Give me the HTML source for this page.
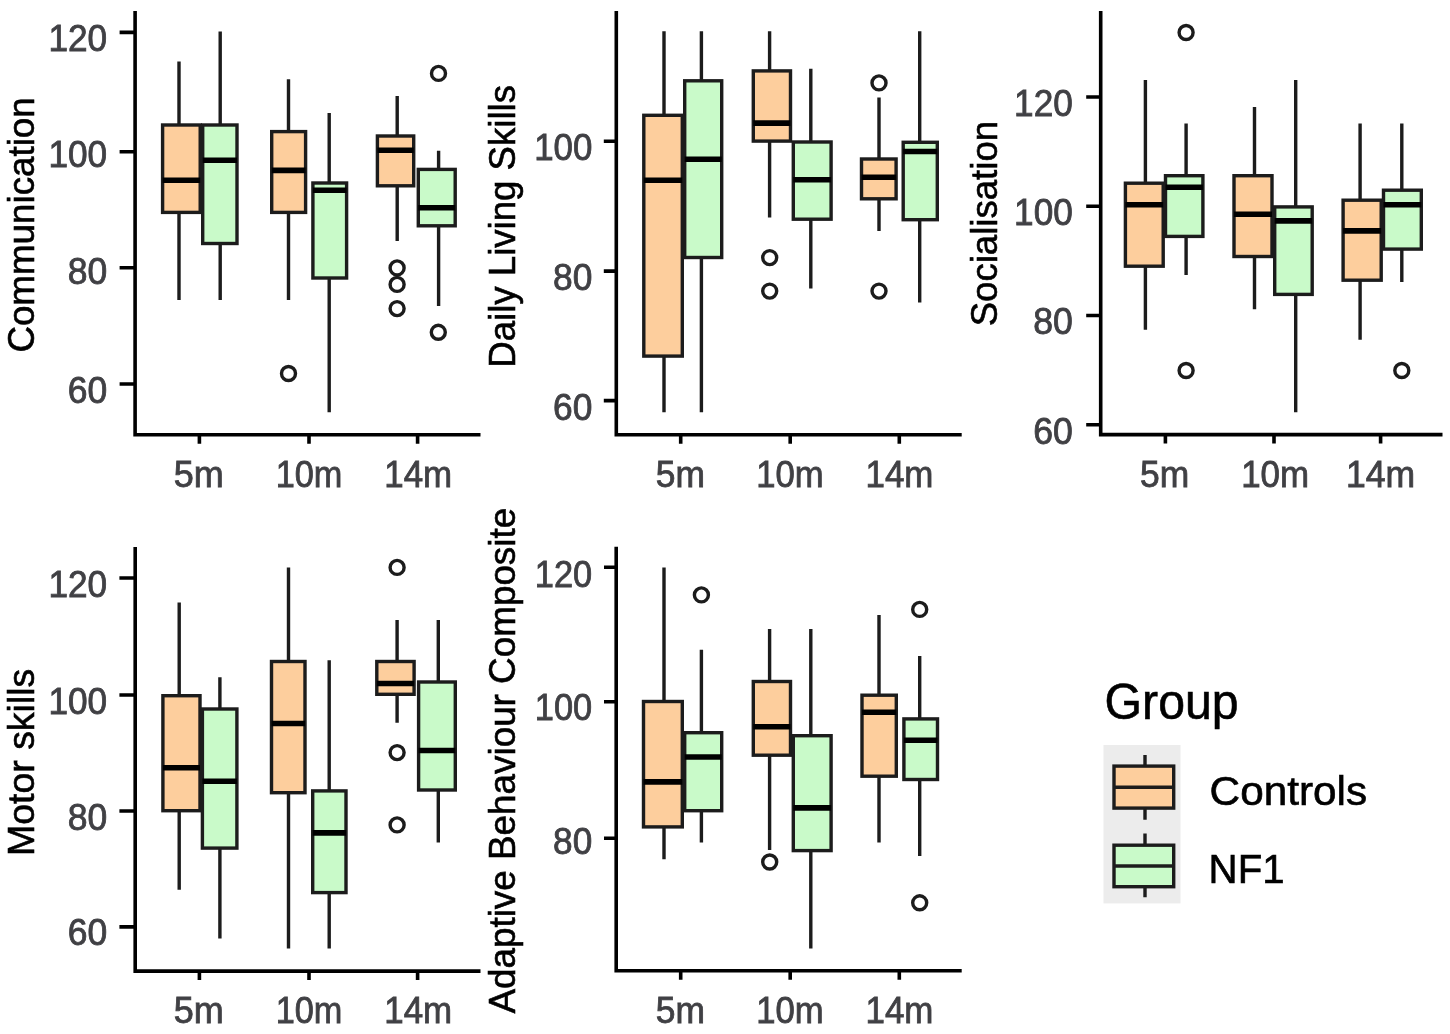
<!DOCTYPE html>
<html lang="en">
<head>
<meta charset="utf-8">
<title>Adaptive behaviour boxplots</title>
<style>
html,body{margin:0;padding:0;background:#fff;}
body{width:1450px;height:1034px;overflow:hidden;}
svg{display:block;font-family:"Liberation Sans",sans-serif;filter:blur(0.55px);}
.a{fill:none;stroke:#000;stroke-width:3.6;stroke-linecap:butt;stroke-linejoin:miter}
.l{fill:none;stroke:#1c1c1c;stroke-width:3.4}
.b{stroke:#1c1c1c;stroke-width:3.4;stroke-linejoin:miter}
.m{fill:none;stroke:#000;stroke-width:5.6}
.o{fill:#fff;stroke:#1c1c1c;stroke-width:3.4}
.t{fill:#404044;font-size:36px;stroke:#404044;stroke-width:0.8}
.ti{fill:#000;stroke:#000;stroke-width:0.6}
</style>
</head>
<body>
<svg width="1450" height="1034" viewBox="0 0 1450 1034">
<rect width="1450" height="1034" fill="#fff"/>
<path d="M135.1 11.0V434.8H480.5M119.6 32.4H135.1M119.6 151.7H135.1M119.6 267.7H135.1M119.6 384.0H135.1M199.4 434.8V443.8M309.0 434.8V443.8M417.6 434.8V443.8" class="a"/>
<text x="48.5" y="50.8" textLength="58.7" lengthAdjust="spacingAndGlyphs" class="t">120</text>
<text x="48.5" y="167.3" textLength="58.7" lengthAdjust="spacingAndGlyphs" class="t">100</text>
<text x="67.7" y="283.7" textLength="39.5" lengthAdjust="spacingAndGlyphs" class="t">80</text>
<text x="67.7" y="402.9" textLength="39.5" lengthAdjust="spacingAndGlyphs" class="t">60</text>
<text x="173.8" y="487.4" textLength="50.0" lengthAdjust="spacingAndGlyphs" class="t">5m</text>
<text x="275.7" y="487.4" textLength="66.7" lengthAdjust="spacingAndGlyphs" class="t">10m</text>
<text x="384.3" y="487.4" textLength="67.9" lengthAdjust="spacingAndGlyphs" class="t">14m</text>
<text transform="translate(33.5 352.6) rotate(-90)" textLength="255.3" lengthAdjust="spacingAndGlyphs" class="ti" font-size="37.5">Communication</text>
<path d="M179.0 61.6V125.0M179.0 212.4V299.9" class="l"/><rect x="162.6" y="125.0" width="37.6" height="87.4" fill="#FDCE9D" class="b"/><path d="M162.6 180.3H200.2" class="m"/>
<path d="M220.2 31.4V125.0M220.2 243.5V299.9" class="l"/><rect x="202.7" y="125.0" width="34.3" height="118.5" fill="#C9FAC9" class="b"/><path d="M202.7 160.3H237.0" class="m"/>
<path d="M288.5 79.2V131.6M288.5 212.4V299.9" class="l"/><rect x="271.7" y="131.6" width="33.9" height="80.8" fill="#FDCE9D" class="b"/><path d="M271.7 170.4H305.6" class="m"/>
<path d="M329.2 113.1V183.0M329.2 278.0V412.2" class="l"/><rect x="312.9" y="183.0" width="33.7" height="95.0" fill="#C9FAC9" class="b"/><path d="M312.9 190.3H346.6" class="m"/>
<path d="M397.2 96.0V136.0M397.2 185.8V241.0" class="l"/><rect x="377.4" y="136.0" width="36.3" height="49.8" fill="#FDCE9D" class="b"/><path d="M377.4 150.2H413.7" class="m"/>
<path d="M438.6 150.8V169.4M438.6 225.8V306.1" class="l"/><rect x="418.3" y="169.4" width="36.9" height="56.4" fill="#C9FAC9" class="b"/><path d="M418.3 207.8H455.2" class="m"/>
<circle cx="288.5" cy="373.5" r="7.0" class="o"/>
<circle cx="397.1" cy="267.9" r="7.0" class="o"/>
<circle cx="397.1" cy="284.4" r="7.0" class="o"/>
<circle cx="397.1" cy="308.6" r="7.0" class="o"/>
<circle cx="438.5" cy="73.4" r="7.0" class="o"/>
<circle cx="438.3" cy="332.3" r="7.0" class="o"/>
<path d="M616.3 11.0V434.7H961.7M603.8 141.3H616.3M603.8 271.1H616.3M603.8 400.6H616.3M680.7 434.7V443.7M790.2 434.7V443.7M899.3 434.7V443.7" class="a"/>
<text x="534.2" y="159.7" textLength="58.2" lengthAdjust="spacingAndGlyphs" class="t">100</text>
<text x="553.1" y="289.7" textLength="39.3" lengthAdjust="spacingAndGlyphs" class="t">80</text>
<text x="553.1" y="419.7" textLength="39.3" lengthAdjust="spacingAndGlyphs" class="t">60</text>
<text x="655.8" y="487.4" textLength="49.2" lengthAdjust="spacingAndGlyphs" class="t">5m</text>
<text x="756.2" y="487.4" textLength="67.4" lengthAdjust="spacingAndGlyphs" class="t">10m</text>
<text x="865.5" y="487.4" textLength="67.9" lengthAdjust="spacingAndGlyphs" class="t">14m</text>
<text transform="translate(515.3 367.7) rotate(-90)" textLength="282.7" lengthAdjust="spacingAndGlyphs" class="ti" font-size="37.5">Daily Living Skills</text>
<path d="M664.0 31.2V115.3M664.0 356.1V412.2" class="l"/><rect x="643.8" y="115.3" width="38.5" height="240.8" fill="#FDCE9D" class="b"/><path d="M643.8 180.3H682.3" class="m"/>
<path d="M701.4 31.2V80.8M701.4 257.5V412.2" class="l"/><rect x="684.7" y="80.8" width="37.0" height="176.7" fill="#C9FAC9" class="b"/><path d="M684.7 159.3H721.7" class="m"/>
<path d="M769.6 31.2V70.9M769.6 141.1V217.5" class="l"/><rect x="753.3" y="70.9" width="37.2" height="70.2" fill="#FDCE9D" class="b"/><path d="M753.3 123.1H790.5" class="m"/>
<path d="M810.8 68.7V142.0M810.8 219.2V288.6" class="l"/><rect x="793.3" y="142.0" width="37.8" height="77.2" fill="#C9FAC9" class="b"/><path d="M793.3 179.8H831.1" class="m"/>
<path d="M879.0 97.4V159.0M879.0 198.8V231.0" class="l"/><rect x="861.5" y="159.0" width="34.6" height="39.8" fill="#FDCE9D" class="b"/><path d="M861.5 177.3H896.1" class="m"/>
<path d="M919.7 31.2V142.3M919.7 219.7V302.4" class="l"/><rect x="903.2" y="142.3" width="34.1" height="77.4" fill="#C9FAC9" class="b"/><path d="M903.2 151.5H937.3" class="m"/>
<circle cx="769.7" cy="257.6" r="7.0" class="o"/>
<circle cx="769.7" cy="291.1" r="7.0" class="o"/>
<circle cx="879.0" cy="82.9" r="7.0" class="o"/>
<circle cx="879.0" cy="291.1" r="7.0" class="o"/>
<path d="M1100.7 11.0V434.6H1442.5M1086.2 97.0H1100.7M1086.2 206.2H1100.7M1086.2 315.5H1100.7M1086.2 424.8H1100.7M1165.4 434.6V443.6M1274.0 434.6V443.6M1380.6 434.6V443.6" class="a"/>
<text x="1014.1" y="116.0" textLength="58.7" lengthAdjust="spacingAndGlyphs" class="t">120</text>
<text x="1014.1" y="225.0" textLength="58.7" lengthAdjust="spacingAndGlyphs" class="t">100</text>
<text x="1033.2" y="334.2" textLength="39.6" lengthAdjust="spacingAndGlyphs" class="t">80</text>
<text x="1033.2" y="443.6" textLength="39.6" lengthAdjust="spacingAndGlyphs" class="t">60</text>
<text x="1140.1" y="487.4" textLength="49.2" lengthAdjust="spacingAndGlyphs" class="t">5m</text>
<text x="1241.2" y="487.4" textLength="67.9" lengthAdjust="spacingAndGlyphs" class="t">10m</text>
<text x="1346.0" y="487.4" textLength="69.2" lengthAdjust="spacingAndGlyphs" class="t">14m</text>
<text transform="translate(996.5 326.3) rotate(-90)" textLength="205.4" lengthAdjust="spacingAndGlyphs" class="ti" font-size="37.5">Socialisation</text>
<path d="M1145.4 79.9V183.2M1145.4 266.2V329.8" class="l"/><rect x="1125.4" y="183.2" width="37.8" height="83.0" fill="#FDCE9D" class="b"/><path d="M1125.4 204.7H1163.2" class="m"/>
<path d="M1186.1 123.6V175.7M1186.1 236.4V274.9" class="l"/><rect x="1165.5" y="175.7" width="37.4" height="60.7" fill="#C9FAC9" class="b"/><path d="M1165.5 187.2H1202.9" class="m"/>
<path d="M1254.5 106.9V175.7M1254.5 256.5V309.3" class="l"/><rect x="1234.0" y="175.7" width="38.0" height="80.8" fill="#FDCE9D" class="b"/><path d="M1234.0 214.2H1272.0" class="m"/>
<path d="M1295.7 79.9V206.9M1295.7 294.4V412.2" class="l"/><rect x="1274.7" y="206.9" width="37.5" height="87.5" fill="#C9FAC9" class="b"/><path d="M1274.7 220.9H1312.2" class="m"/>
<path d="M1360.1 123.6V200.2M1360.1 280.2V339.8" class="l"/><rect x="1343.1" y="200.2" width="38.1" height="80.0" fill="#FDCE9D" class="b"/><path d="M1343.1 230.9H1381.2" class="m"/>
<path d="M1401.8 123.6V190.2M1401.8 249.1V281.9" class="l"/><rect x="1383.5" y="190.2" width="37.8" height="58.9" fill="#C9FAC9" class="b"/><path d="M1383.5 204.7H1421.3" class="m"/>
<circle cx="1186.1" cy="32.5" r="7.0" class="o"/>
<circle cx="1186.1" cy="370.5" r="7.0" class="o"/>
<circle cx="1401.8" cy="370.5" r="7.0" class="o"/>
<path d="M135.2 547.0V971.1H480.5M119.4 578.0H135.2M119.4 695.0H135.2M119.4 811.0H135.2M119.4 926.9H135.2M199.4 971.1V980.1M309.0 971.1V980.1M417.6 971.1V980.1" class="a"/>
<text x="48.5" y="596.8" textLength="58.7" lengthAdjust="spacingAndGlyphs" class="t">120</text>
<text x="48.5" y="713.9" textLength="58.7" lengthAdjust="spacingAndGlyphs" class="t">100</text>
<text x="67.7" y="829.7" textLength="39.5" lengthAdjust="spacingAndGlyphs" class="t">80</text>
<text x="67.7" y="945.3" textLength="39.5" lengthAdjust="spacingAndGlyphs" class="t">60</text>
<text x="173.8" y="1023.4" textLength="50.0" lengthAdjust="spacingAndGlyphs" class="t">5m</text>
<text x="275.7" y="1023.4" textLength="66.7" lengthAdjust="spacingAndGlyphs" class="t">10m</text>
<text x="384.3" y="1023.4" textLength="67.9" lengthAdjust="spacingAndGlyphs" class="t">14m</text>
<text transform="translate(33.6 856.0) rotate(-90)" textLength="187.3" lengthAdjust="spacingAndGlyphs" class="ti" font-size="37.5">Motor skills</text>
<path d="M179.2 602.4V695.7M179.2 810.7V889.8" class="l"/><rect x="162.9" y="695.7" width="37.1" height="115.0" fill="#FDCE9D" class="b"/><path d="M162.9 767.7H200.0" class="m"/>
<path d="M219.9 677.3V709.0M219.9 848.1V938.5" class="l"/><rect x="202.4" y="709.0" width="34.5" height="139.1" fill="#C9FAC9" class="b"/><path d="M202.4 781.2H236.9" class="m"/>
<path d="M288.5 567.4V661.5M288.5 792.7V948.5" class="l"/><rect x="271.5" y="661.5" width="33.5" height="131.2" fill="#FDCE9D" class="b"/><path d="M271.5 723.5H305.0" class="m"/>
<path d="M329.2 660.3V790.9M329.2 892.6V948.5" class="l"/><rect x="312.7" y="790.9" width="33.3" height="101.7" fill="#C9FAC9" class="b"/><path d="M312.7 832.9H346.0" class="m"/>
<path d="M397.1 619.9V661.5M397.1 694.3V722.7" class="l"/><rect x="376.8" y="661.5" width="37.3" height="32.8" fill="#FDCE9D" class="b"/><path d="M376.8 683.5H414.1" class="m"/>
<path d="M438.3 619.9V682.0M438.3 790.0V842.4" class="l"/><rect x="418.6" y="682.0" width="36.7" height="108.0" fill="#C9FAC9" class="b"/><path d="M418.6 750.5H455.3" class="m"/>
<circle cx="397.1" cy="567.4" r="7.0" class="o"/>
<circle cx="397.1" cy="752.6" r="7.0" class="o"/>
<circle cx="397.1" cy="824.9" r="7.0" class="o"/>
<path d="M616.2 546.8V970.8H961.7M604.0 567.3H616.2M604.0 701.7H616.2M604.0 838.2H616.2M680.7 970.8V979.8M790.2 970.8V979.8M899.3 970.8V979.8" class="a"/>
<text x="534.8" y="587.3" textLength="57.4" lengthAdjust="spacingAndGlyphs" class="t">120</text>
<text x="534.8" y="720.0" textLength="57.4" lengthAdjust="spacingAndGlyphs" class="t">100</text>
<text x="553.1" y="853.6" textLength="39.1" lengthAdjust="spacingAndGlyphs" class="t">80</text>
<text x="655.8" y="1023.4" textLength="49.2" lengthAdjust="spacingAndGlyphs" class="t">5m</text>
<text x="756.2" y="1023.4" textLength="67.4" lengthAdjust="spacingAndGlyphs" class="t">10m</text>
<text x="865.5" y="1023.4" textLength="67.9" lengthAdjust="spacingAndGlyphs" class="t">14m</text>
<text transform="translate(515.0 1013.6) rotate(-90)" textLength="505.8" lengthAdjust="spacingAndGlyphs" class="ti" font-size="37.5">Adaptive Behaviour Composite</text>
<path d="M664.0 567.4V701.5M664.0 826.9V859.3" class="l"/><rect x="643.5" y="701.5" width="38.8" height="125.4" fill="#FDCE9D" class="b"/><path d="M643.5 781.9H682.3" class="m"/>
<path d="M701.4 649.8V732.7M701.4 810.7V842.4" class="l"/><rect x="684.7" y="732.7" width="37.0" height="78.0" fill="#C9FAC9" class="b"/><path d="M684.7 757.0H721.7" class="m"/>
<path d="M769.6 629.1V681.5M769.6 755.2V850.0" class="l"/><rect x="753.3" y="681.5" width="37.2" height="73.7" fill="#FDCE9D" class="b"/><path d="M753.3 726.7H790.5" class="m"/>
<path d="M810.8 629.1V735.7M810.8 850.6V948.5" class="l"/><rect x="793.3" y="735.7" width="37.8" height="114.9" fill="#C9FAC9" class="b"/><path d="M793.3 807.9H831.1" class="m"/>
<path d="M879.0 614.9V695.2M879.0 776.2V842.4" class="l"/><rect x="862.0" y="695.2" width="34.3" height="81.0" fill="#FDCE9D" class="b"/><path d="M862.0 712.2H896.3" class="m"/>
<path d="M919.7 656.1V718.9M919.7 779.5V856.1" class="l"/><rect x="903.9" y="718.9" width="33.6" height="60.6" fill="#C9FAC9" class="b"/><path d="M903.9 740.2H937.5" class="m"/>
<circle cx="701.4" cy="594.9" r="7.0" class="o"/>
<circle cx="769.7" cy="862.0" r="7.0" class="o"/>
<circle cx="919.7" cy="609.4" r="7.0" class="o"/>
<circle cx="919.7" cy="902.8" r="7.0" class="o"/>
<rect x="1103.5" y="745" width="77" height="158.4" fill="#ececec"/>
<text x="1104.6" y="719.2" textLength="134" lengthAdjust="spacingAndGlyphs" class="ti" font-size="50">Group</text>
<path d="M1145.0 754.9V766.1M1145.0 808.1V819.8" class="l"/>
<rect x="1114.0" y="766.1" width="59.7" height="42.0" fill="#FDCE9D" class="b"/>
<path d="M1114.0 787.3H1173.7" class="l"/>
<path d="M1145.0 833.5V845.2M1145.0 886.7V897.2" class="l"/>
<rect x="1114.0" y="845.2" width="59.7" height="41.5" fill="#C9FAC9" class="b"/>
<path d="M1114.0 866.0H1173.7" class="l"/>
<text x="1209.6" y="804.8" textLength="157.6" lengthAdjust="spacingAndGlyphs" class="ti" font-size="40">Controls</text>
<text x="1208.6" y="883.4" textLength="76" lengthAdjust="spacingAndGlyphs" class="ti" font-size="40">NF1</text>
</svg>
</body>
</html>
